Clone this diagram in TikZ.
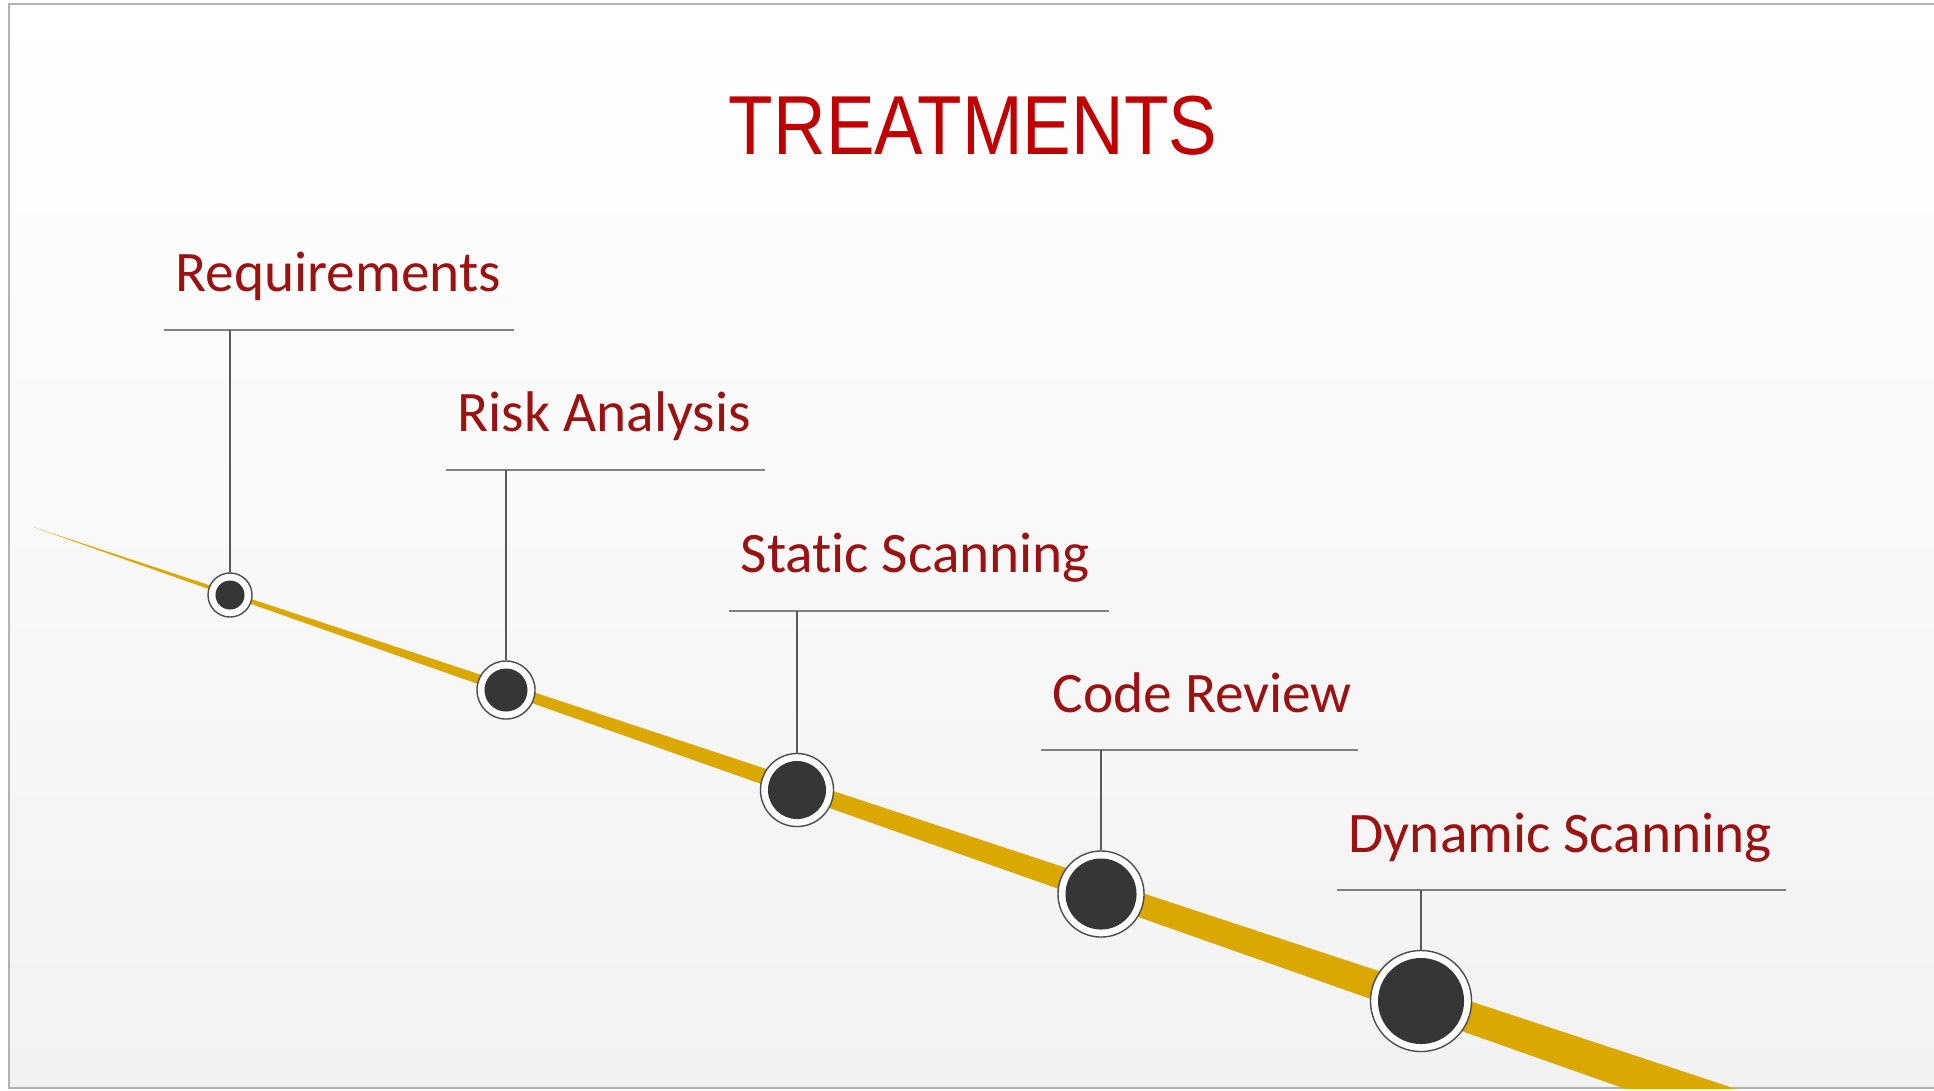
\documentclass[tikz,border=0pt]{standalone}
\usepackage{fontspec}
\setmainfont[Ligatures=CommonOff]{Carlito}
\newfontfamily\titlefont[FakeStretch=0.87]{Liberation Sans}
\definecolor{titelrot}{RGB}{192,0,0}
\definecolor{textrot}{RGB}{155,18,18}
\definecolor{gold}{RGB}{218,168,0}
\definecolor{punkt}{RGB}{54,54,54}
\definecolor{hgunten}{RGB}{242,242,242}

\begin{document}
\begin{tikzpicture}[x=0.01cm,y=-0.01cm,
    schrift/.style={font=\fontsize{16.3}{19}\selectfont, text=textrot, inner sep=0pt, anchor=base west},
    balken/.style={draw=black!50, line width=0.8pt},
    stiel/.style={draw=black!65, line width=0.6pt},
    ring/.style={circle, fill=white, draw=black!70, line width=0.4pt, inner sep=0pt},
    kern/.style={circle, fill=punkt, inner sep=0pt}]
        \useasboundingbox (0,0) rectangle (1934,1090);

        % Folie mit Verlauf
        \shade[top color=white, bottom color=hgunten] (9,4) rectangle (1940,1088);
        \draw[black!30, line width=0.5pt] (1940,4) -- (9,4) -- (9,1088) -- (1940,1088);

        % Titel
        \node[font=\titlefont\fontsize{23.8}{27}\selectfont, text=titelrot, anchor=base, inner sep=0pt] (titel) at (973,154) {TREATMENTS};

        % Band
        \begin{scope}
            \clip (9,4) rectangle (1934,1088);
            \fill[gold] (33,527) -- (2000,1176) -- (2000,1221) -- cycle;
        \end{scope}

        % Stationen mit Beschriftung
        \foreach \i/\cx/\cy/\r/\xa/\xb/\yl/\txt in {
            1/230/595/22/164/514/330/Requirements,
            2/506/690/29/446/765/470/Risk Analysis,
            3/797/790/36.5/729/1109/611/Static Scanning,
            4/1101/894/43/1041/1358/750/Code Review,
            5/1421/1001/50.5/1337/1786/890/Dynamic Scanning} {
            \node[ring, minimum size=0.02cm*\r] (ring\i) at (\cx,\cy) {};
            \node[kern, minimum size=0.02cm*\r-0.15cm] (dot\i) at (ring\i) {}; % Kern
            \coordinate (la\i) at (\xa,\yl);
            \coordinate (lb\i) at (\xb,\yl);
            \draw[balken] (la\i) -- (lb\i); % Linie
            \draw[stiel] (ring\i.north) -- (ring\i |- la\i); % Stiel
            \node[schrift] (txt\i) at ([xshift=0.11cm, yshift=0.38cm]la\i) {\txt};
        }
    \end{tikzpicture}
\end{document}
